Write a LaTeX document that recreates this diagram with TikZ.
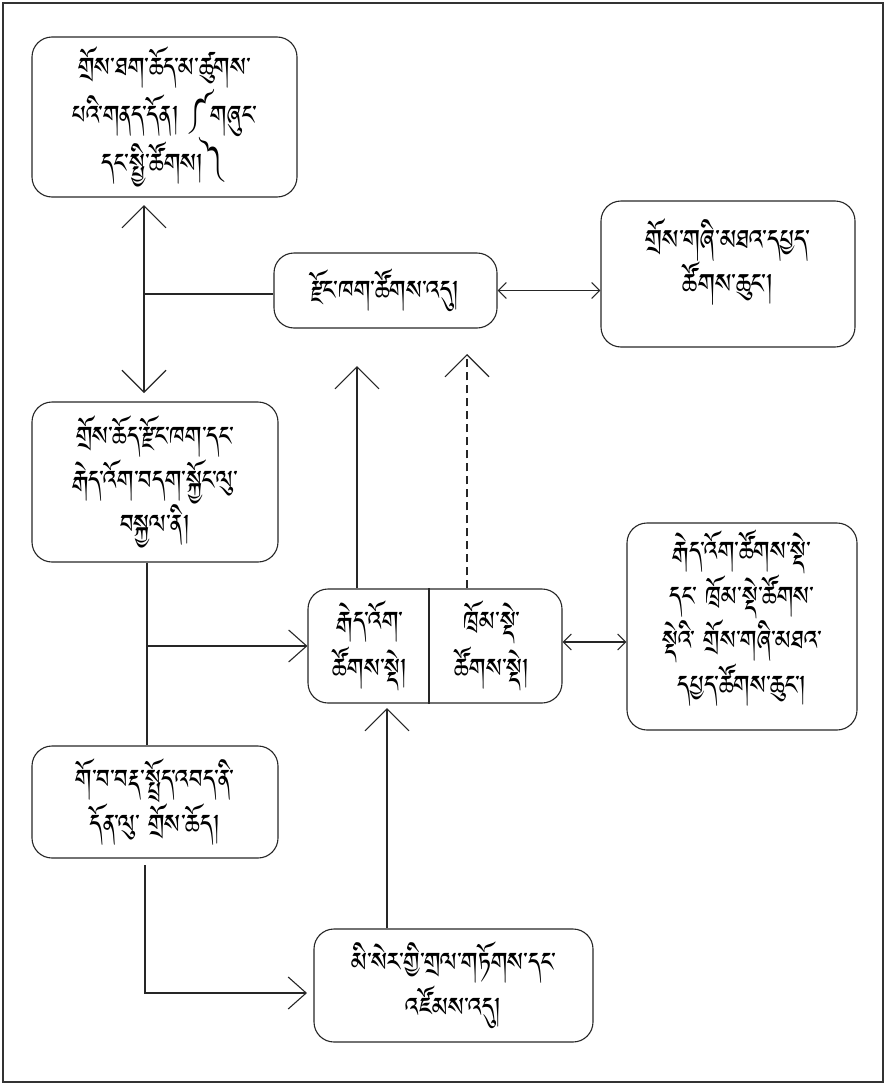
\documentclass[tikz,border=0pt]{standalone}
\usepackage{fontspec}
\usetikzlibrary{arrows.meta}
\IfFontExistsTF{Jomolhari}{\newfontfamily\tib[Script=Tibetan,FakeStretch=0.86]{Jomolhari}}{%
 \IfFontExistsTF{Noto Serif Tibetan}{\newfontfamily\tib[Script=Tibetan,FakeStretch=0.86]{Noto Serif Tibetan}}{%
  \IfFontExistsTF{Tibetan Machine Uni}{\newfontfamily\tib[Script=Tibetan,FakeStretch=0.86]{Tibetan Machine Uni}}{%
   \IfFontExistsTF{Noto Sans Tibetan}{\newfontfamily\tib[Script=Tibetan,FakeStretch=0.86]{Noto Sans Tibetan}}{%
    \newfontfamily\tib{DejaVu Sans}}}}}
\tikzset{
  bigtip/.tip={Straight Barb[length=22pt,width=44pt]},
  midtip/.tip={Straight Barb[length=18pt,width=32pt]},
  smalltip/.tip={Straight Barb[length=8pt,width=16pt]},
  box/.style={draw=black!85, rounded corners=20pt, align=center, inner sep=0pt,
    font=\tib\fontsize{34}{44}\selectfont},
  txt/.style={align=center, inner sep=0pt, font=\tib\fontsize{34}{47}\selectfont},
  conn/.style={draw=black!85},
  dashconn/.style={draw=black!85, dash pattern=on 8pt off 5pt},
}
\begin{document}
\begin{tikzpicture}[x=1pt,y=-1pt,line width=1.1pt]
\useasboundingbox (0,0) rectangle (887,1084);
\draw[line width=1.6pt, black!80] (3,3) rectangle (883,1082);

\node[box, minimum width=265pt, minimum height=160pt] (A) at (164.5,117)
  {གྲོས་ཐག་ཆོད་མ་ཚུགས་\\པའི་གནད་དོན། ༼གཞུང་\\དང་སྤྱི་ཚོགས།༽};
\node[box, minimum width=223pt, minimum height=75pt] (B) at (385.5,290.5)
  {རྫོང་ཁག་ཚོགས་འདུ།};
\node[box, minimum width=254pt, minimum height=146pt] (C) at (728,274) {};
\node[txt, font=\tib\fontsize{35}{38}\selectfont] (CT) at (728,262)
  {གྲོས་གཞི་མཐའ་དཔྱད་\\ཚོགས་ཆུང་།};
\node[box, minimum width=246pt, minimum height=160pt] (D) at (155,482)
  {གྲོས་ཆོད་རྫོང་ཁག་དང་\\རྒེད་འོག་བདག་སྐྱོང་ལུ་\\བསྐྱལ་ནི།};
\node[box, minimum width=254pt, minimum height=114pt] (E) at (435,646) {};
\draw[conn] (E.north -| 429,0) -- (E.south -| 429,0);
\node[txt] (EL) at (370,646) {རྒེད་འོག་\\ཚོགས་སྡེ།};
\node[txt] (ER) at (492,646) {ཁྲོམ་སྡེ་\\ཚོགས་སྡེ།};
\node[box, minimum width=230pt, minimum height=207pt] (F) at (742,626.5) {};
\node[txt, font=\tib\fontsize{34}{38}\selectfont] (FT) at (742,618)
  {རྒེད་འོག་ཚོགས་སྡེ་\\དང་ ཁྲོམ་སྡེ་ཚོགས་\\སྡེའི་ གྲོས་གཞི་མཐའ་\\དཔྱད་ཚོགས་ཆུང་།};
\node[box, minimum width=246pt, minimum height=112pt, font=\tib\fontsize{34}{45}\selectfont] (G) at (155,802)
  {གོ་བ་བརྡ་སྤྲོད་འབད་ནི་\\དོན་ལུ་ གྲོས་ཆོད།};
\node[box, minimum width=279pt, minimum height=113pt, font=\tib\fontsize{34}{45}\selectfont] (H) at (453.5,985.5)
  {མི་སེར་གྱི་གྲལ་གཏོགས་དང་\\འཛོམས་འདུ།};

% coordinates for free ends
\coordinate (a1) at (144,205);
\coordinate (a2) at (144,393);
\coordinate (j1) at (144,294);
\coordinate (e1) at (357,366);
\coordinate (e2) at (467,354);
\coordinate (j2) at (147,646);
\coordinate (g1) at (145,865);
\coordinate (g2) at (145,993);
\coordinate (h1) at (307,993);
\coordinate (h2) at (387,708);

\draw[conn, bigtip-bigtip] (a1) -- (a2);
\draw[conn] (j1) -- (j1 -| B.west);
\draw[conn, smalltip-smalltip] (B.east) -- (B.east -| C.west);
\draw[conn, -bigtip] (E.north -| e1) -- (e1);
\draw[dashconn, -bigtip] (E.north -| e2) -- (e2);
\draw[conn] (D.south -| j2) -- (G.north -| j2);
\draw[conn, -midtip] (j2) -- (E.west);
\draw[conn, smalltip-smalltip] (E.east |- 0,642) -- (F.west |- 0,642);
\draw[conn, -midtip] (g1) -- (g2) -- (h1);
\draw[conn, -bigtip] (H.north -| h2) -- (h2);
\end{tikzpicture}
\end{document}
